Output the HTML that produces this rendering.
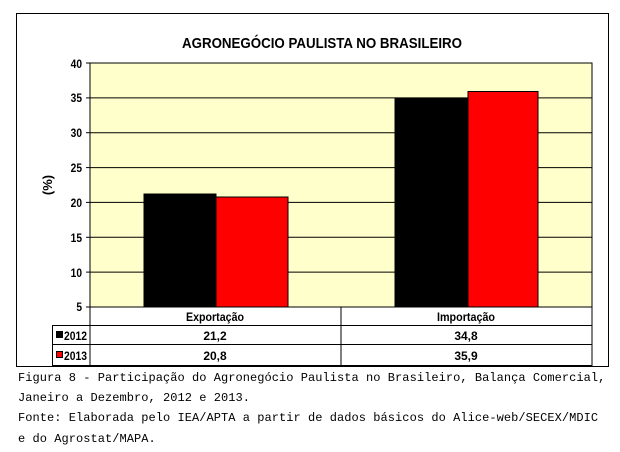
<!DOCTYPE html>
<html><head><style>
body{margin:0;background:#fff;width:620px;height:452px;overflow:hidden;position:relative;font-family:"Liberation Sans",Arial,sans-serif}
.cap{position:absolute;left:18px;font-family:"Liberation Mono",monospace;font-size:12px;letter-spacing:0.05px;color:#000;white-space:pre}
</style></head><body>
<svg width="620" height="452" style="position:absolute;left:0;top:0" font-family="Liberation Sans, Arial, sans-serif">
<rect x="16.5" y="13.5" width="592" height="353" fill="#fff" stroke="#000" stroke-width="1"/>
<text x="182" y="48" font-size="15" font-weight="bold" textLength="280" lengthAdjust="spacingAndGlyphs">AGRONEGÓCIO PAULISTA NO BRASILEIRO</text>
<rect x="90" y="63" width="502" height="244" fill="#ffffcc" stroke="#000" stroke-width="1"/>
<g stroke="#000" stroke-width="1">
<line x1="90" y1="97.9" x2="592" y2="97.9"/><line x1="90" y1="132.7" x2="592" y2="132.7"/>
<line x1="90" y1="167.6" x2="592" y2="167.6"/><line x1="90" y1="202.4" x2="592" y2="202.4"/>
<line x1="90" y1="237.3" x2="592" y2="237.3"/><line x1="90" y1="272.1" x2="592" y2="272.1"/>
<line x1="86" y1="63" x2="90" y2="63"/><line x1="86" y1="97.9" x2="90" y2="97.9"/><line x1="86" y1="132.7" x2="90" y2="132.7"/><line x1="86" y1="167.6" x2="90" y2="167.6"/><line x1="86" y1="202.4" x2="90" y2="202.4"/><line x1="86" y1="237.3" x2="90" y2="237.3"/><line x1="86" y1="272.1" x2="90" y2="272.1"/><line x1="86" y1="307" x2="90" y2="307"/>
</g>
<g stroke="#000" stroke-width="1">
<rect x="144" y="194" width="72" height="113" fill="#000"/>
<rect x="216" y="197" width="72" height="110" fill="#ff0000"/>
<rect x="395" y="98.5" width="73" height="208.5" fill="#000"/>
<rect x="468" y="91.5" width="70" height="215.5" fill="#ff0000"/>
</g>
<g font-size="12" font-weight="bold" text-anchor="end" transform="translate(82,0) scale(0.85,1) translate(-82,0)">
<text x="82" y="68">40</text><text x="82" y="102">35</text><text x="82" y="137">30</text><text x="82" y="172">25</text><text x="82" y="207">20</text><text x="82" y="242">15</text><text x="82" y="277">10</text><text x="82" y="311">5</text>
</g>
<text transform="translate(52,185) rotate(-90)" text-anchor="middle" font-size="13" font-weight="bold">(%)</text>
<g stroke="#000" stroke-width="1" fill="none">
<line x1="90" y1="307" x2="90" y2="366"/><line x1="341" y1="307" x2="341" y2="366"/><line x1="592" y1="307" x2="592" y2="366"/>
<line x1="52" y1="325.5" x2="592" y2="325.5"/><line x1="52" y1="344.5" x2="592" y2="344.5"/><line x1="52" y1="365.5" x2="592" y2="365.5"/>
<line x1="52.5" y1="325" x2="52.5" y2="366"/>
</g>
<g font-size="12" font-weight="bold" text-anchor="middle">
<text x="215" y="321" textLength="58" lengthAdjust="spacingAndGlyphs">Exportação</text><text x="466" y="321" textLength="58" lengthAdjust="spacingAndGlyphs">Importação</text>
<text x="215" y="340">21,2</text><text x="466" y="340">34,8</text>
<text x="215" y="360">20,8</text><text x="466" y="360">35,9</text>
</g>
<rect x="56" y="331" width="7" height="7" fill="#000"/>
<rect x="56.5" y="351.5" width="6" height="6" fill="#ff0000" stroke="#000"/>
<g font-size="12" font-weight="bold"><text x="64" y="340" textLength="23" lengthAdjust="spacingAndGlyphs">2012</text><text x="64" y="360" textLength="23" lengthAdjust="spacingAndGlyphs">2013</text></g>
</svg>
<div class="cap" style="top:371px">Figura 8 - Participação do Agronegócio Paulista no Brasileiro, Balança Comercial,</div>
<div class="cap" style="top:391px">Janeiro a Dezembro, 2012 e 2013.</div>
<div class="cap" style="top:411px">Fonte: Elaborada pelo IEA/APTA a partir de dados básicos do Alice-web/SECEX/MDIC</div>
<div class="cap" style="top:432px">e do Agrostat/MAPA.</div>
</body></html>
